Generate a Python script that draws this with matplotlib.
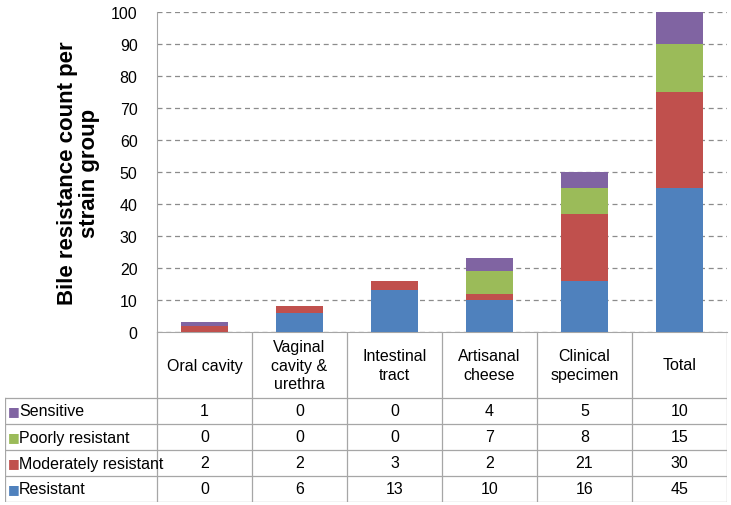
import matplotlib
matplotlib.use("Agg")
import matplotlib.pyplot as plt

groups = ["Oral cavity", "Vaginal\ncavity &\nurethra", "Intestinal\ntract",
          "Artisanal\ncheese", "Clinical\nspecimen", "Total"]
series = ["Resistant", "Moderately resistant", "Poorly resistant", "Sensitive"]
resistant = [0, 6, 13, 10, 16, 45]
moderate = [2, 2, 3, 2, 21, 30]
poorly = [0, 0, 0, 7, 8, 15]
sensitive = [1, 0, 0, 4, 5, 10]
yticks = list(range(0, 101, 10))

values = [resistant, moderate, poorly, sensitive]
colors = ["#4F81BD", "#C0504D", "#9BBB59", "#8064A2"]
grid_c = "#A6A6A6"

plt.rcParams["font.family"] = ["Liberation Sans", "DejaVu Sans"]

W, H = 731, 506
fig = plt.figure(figsize=(W / 100, H / 100), dpi=100)

# bar area in pixels
x0, x1, ytop, ybot = 157, 727, 13, 333
ax = fig.add_axes([x0 / W, 1 - ybot / H, (x1 - x0) / W, (ybot - ytop) / H])
n = len(groups)
xs = [i + 0.5 for i in range(n)]
bottom = [0] * n
for vals, c in zip(values, colors):
    ax.bar(xs, vals, 0.5, bottom=bottom, color=c, zorder=3)
    bottom = [b + v for b, v in zip(bottom, vals)]
ax.set_xlim(0, n)
ax.set_ylim(0, 100)
ax.set_yticks(yticks)
ax.set_xticks([])
ax.yaxis.grid(True, linestyle=(0, (4, 3)), color="#8C8C8C", linewidth=0.9, zorder=0)
for s in ["top", "right"]:
    ax.spines[s].set_visible(False)
for s in ["left", "bottom"]:
    ax.spines[s].set_color(grid_c)
ax.tick_params(axis="y", length=0, pad=14, labelsize=11.5)
ax.set_ylabel("Bile resistance count per\nstrain group", fontsize=16, fontweight="bold",
              labelpad=8, linespacing=1.05)

# data table below
tx0, tbot = 5, 503
head_h, row_h = 66, 26
tab = fig.add_axes([tx0 / W, 1 - tbot / H, (x1 - tx0) / W, (tbot - ybot) / H])
left_u = -(x0 - tx0) / ((x1 - x0) / n)
tab.set_xlim(left_u, n)
total_h = head_h + row_h * len(series)
tab.set_ylim(total_h, 0)
tab.axis("off")

lw = 0.9
for r in range(len(series) + 1):
    y = head_h + row_h * r
    tab.plot([left_u, n], [y, y], color=grid_c, lw=lw)
for i in range(n + 1):
    tab.plot([i, i], [0, total_h], color=grid_c, lw=lw)
tab.plot([left_u, left_u], [head_h, total_h], color=grid_c, lw=lw)

for i, g in enumerate(groups):
    tab.text(i + 0.5, head_h / 2, g, ha="center", va="center", fontsize=11.5, linespacing=1.3)

order = list(range(len(series)))[::-1]
for r, k in enumerate(order):
    yc = head_h + row_h * (r + 0.5)
    tab.text(left_u + 0.03, yc, "\u25A0", color=colors[k], ha="left", va="center", fontsize=9,
             family="DejaVu Sans")
    tab.text(left_u + 0.15, yc, series[k], ha="left", va="center", fontsize=11.5)
    for i in range(n):
        tab.text(i + 0.5, yc, str(values[k][i]), ha="center", va="center", fontsize=11.5)

fig.savefig("out.png", dpi=100)
